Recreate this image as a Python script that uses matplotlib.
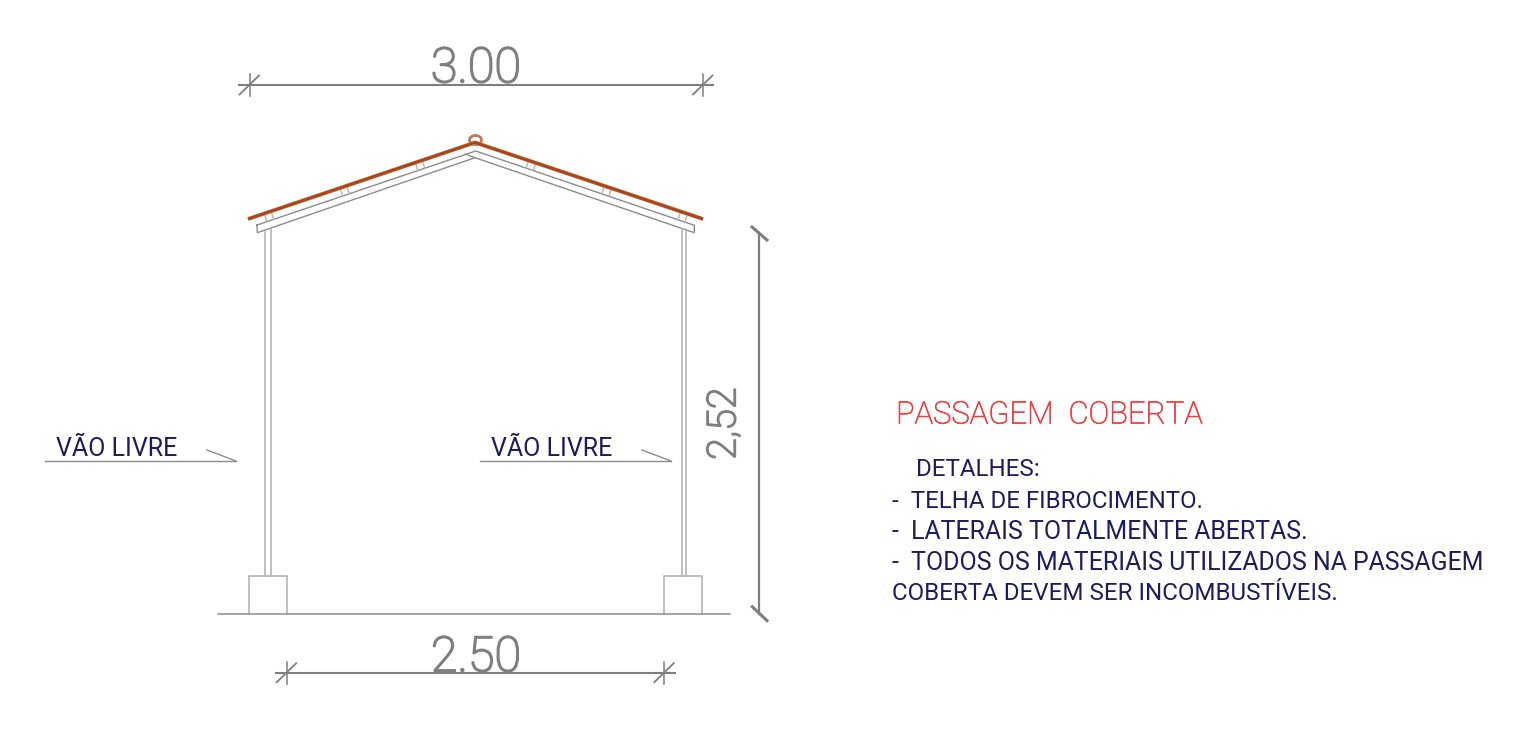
#!/usr/bin/env python3

"""
Section drawing of the covered passage, traced in image pixels
"""

import matplotlib
matplotlib.use("Agg")
import matplotlib.pyplot as plt
import matplotlib.patheffects as pe
from matplotlib.patches import Arc

W, H = 1527, 731

GRAY = "#8c8c8c"
LIGHT = "#b4b4b4"
DIM = "#7f7f7f"
BROWN = "#b4440f"
NAVY = "#1c1c60"
RED = "#f43a3a"

roof_x = [248, 475, 703]
roof_y = [219, 142.5, 219]

rafter_x = [257, 257.3, 475, 694.3, 694.3, 475.7, 257]
rafter_y = [225, 232.7, 157.7, 232.7, 225.3, 151, 225]
apex_tick_x = [465, 475]
apex_tick_y = [154, 157.7]

# purlin sides: x0, y0, x1, y1
purlins = [
    (265, 215.7, 266.7, 221.7), (271.7, 213.3, 273.7, 219.3),
    (340.7, 190, 342.7, 196), (347.3, 187.7, 349.3, 194),
    (416, 164.3, 417.7, 170.7), (422.7, 162, 424.7, 168.3),
    (528.3, 161.7, 526, 168), (535.3, 164.7, 533.3, 170.7),
    (604, 186.7, 602, 193.3), (611, 189.3, 609, 195.7),
    (680, 213.7, 678, 220), (687, 216, 685, 222),
]

post_x = [265, 270.5, 681.7, 686.3]
post_top = [232, 229, 229, 232]
post_bottom = 575.5

footing_left = [248.5, 664.3]
footing_width = 38
footing_top = 575.5
ground_y = 613.5
ground_x = [218, 729.5]

# horizontal dimensions: y, x0, x1, tick positions
dim_top = (85, 239, 713, [249.5, 703])
dim_bottom = (672.7, 275.7, 675, [286.7, 664.3])

dim_right_x = 759.4
dim_right_y = [234, 614]

# leader lines: x0, x1, y, slash start x
leaders = [(45, 236, 461, 207), (480, 671, 461, 642)]

notes = ["DETALHES:",
         "-  TELHA DE FIBROCIMENTO.",
         "-  LATERAIS TOTALMENTE ABERTAS.",
         "-  TODOS OS MATERIAIS UTILIZADOS NA PASSAGEM",
         "COBERTA DEVEM SER INCOMBUSTÍVEIS."]
notes_x = [916, 892, 892, 892, 892]
notes_y = [469.5, 501, 532, 563.5, 594]
notes_size = [17.4, 17.3, 17.9, 17.9, 17.4]

plt.rcParams["font.family"] = ["Roboto", "DejaVu Sans"]

fig = plt.figure(figsize=(W / 100, H / 100), dpi=100)
ax = fig.add_axes([0, 0, 1, 1])
ax.set_xlim(0, W)
ax.set_ylim(H, 0)
ax.axis("off")

# thin face of the font is too fine, so give it a small outline
dim_stroke = [pe.withStroke(linewidth=1.3, foreground=DIM)]
red_stroke = [pe.withStroke(linewidth=0.5, foreground=RED)]

# roof
ax.plot(rafter_x, rafter_y, color=GRAY, lw=1.0, solid_joinstyle="miter")
ax.plot(apex_tick_x, apex_tick_y, color=GRAY, lw=1.0)
for x0, y0, x1, y1 in purlins:
    ax.plot([x0, x1], [y0, y1], color=LIGHT, lw=1.0)
ax.plot(roof_x, roof_y, color="#a89084", lw=2.8, solid_joinstyle="miter",
        solid_capstyle="butt", zorder=4)
ax.plot(roof_x, roof_y, color=BROWN, lw=2.1, solid_joinstyle="miter",
        solid_capstyle="butt", zorder=5)
ax.add_patch(Arc((475.5, 140), 12, 9, theta1=0, theta2=360, color="#c07a58", lw=2.0))

# posts, footings and ground
for x, top in zip(post_x, post_top):
    ax.plot([x, x], [top, post_bottom], color=LIGHT, lw=1.2)
for x in footing_left:
    ax.plot([x, x, x + footing_width, x + footing_width],
            [ground_y, footing_top, footing_top, ground_y], color=LIGHT, lw=1.2)
ax.plot(ground_x, [ground_y, ground_y], color=GRAY, lw=1.1)

# dimensions
for y, x0, x1, ticks in [dim_top, dim_bottom]:
    ax.plot([x0, x1], [y, y], color=DIM, lw=1.5)
    for t in ticks:
        ax.plot([t, t], [y - 11, y + 11], color=DIM, lw=1.1)
        ax.plot([t - 10, t + 9.5], [y + 9.5, y - 9.5], color=DIM, lw=1.3)

ax.plot([dim_right_x, dim_right_x], dim_right_y, color=DIM, lw=1.6)
ax.plot([752, 767], [227, 240], color=DIM, lw=2.2)
ax.plot([752.3, 767], [606.7, 620.7], color=DIM, lw=2.2)

ax.text(476, 69, "3.00", color=DIM, fontsize=35, ha="center", va="center",
        fontweight="light", path_effects=dim_stroke)
ax.text(476, 658, "2.50", color=DIM, fontsize=35, ha="center", va="center",
        fontweight="light", path_effects=dim_stroke)
ax.text(724, 423.5, "2,52", color=DIM, fontsize=28.5, ha="center", va="center", rotation=90,
        fontweight="light", path_effects=dim_stroke)

# leaders
for x0, x1, y, sx in leaders:
    ax.plot([x0, x1], [y, y], color=GRAY, lw=1.0)
    ax.plot([sx, x1], [y - 11, y], color=GRAY, lw=1.0)
    ax.text(x0 + 11, y - 12, "VÃO LIVRE", color=NAVY, fontsize=18, ha="left", va="center")

# notes
ax.text(896, 415, "PASSAGEM  COBERTA", color=RED, fontsize=22.3, ha="left", va="center",
        fontweight="light", path_effects=red_stroke)
for s, x, y, size in zip(notes, notes_x, notes_y, notes_size):
    ax.text(x, y, s, color=NAVY, fontsize=size, ha="left", va="center")

fig.savefig("out.png", dpi=100)
plt.close(fig)
